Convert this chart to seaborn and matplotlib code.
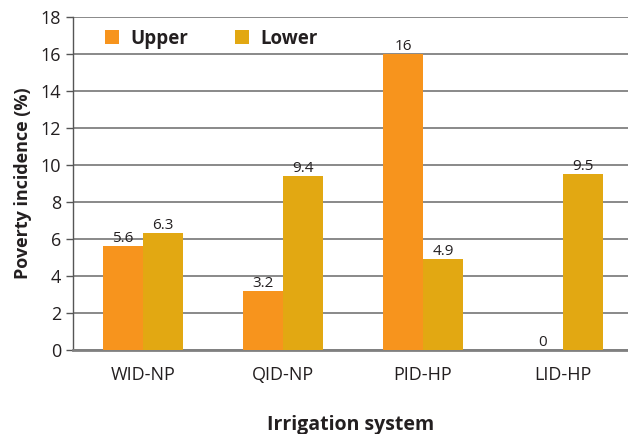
import seaborn as sns
import matplotlib.pyplot as plt
import pandas as pd

# data
systems = ['WID-NP', 'QID-NP', 'PID-HP', 'LID-HP']
upper = [5.6, 3.2, 16, 0]
lower = [6.3, 9.4, 4.9, 9.5]

df = pd.DataFrame({
    'system': systems * 2,
    'group': ['Upper'] * 4 + ['Lower'] * 4,
    'value': upper + lower,
})

sns.set_style('white')
plt.rcParams['font.family'] = ['Open Sans', 'DejaVu Sans']

fig = plt.figure(figsize=(6.28, 4.34), dpi=100)
ax = fig.add_axes([0.116, 0.194, 0.884, 0.767])

colors = {'Upper': '#F7941D', 'Lower': '#E2A812'}
sns.barplot(data=df, x='system', y='value', hue='group', palette=colors,
            width=0.57, saturation=1, linewidth=0, ax=ax, zorder=3)

for cont in ax.containers:
    labels = ['%g' % v for v in cont.datavalues]
    ax.bar_label(cont, labels=labels, padding=0, fontsize=11, color='#231f20')

ax.set_ylim(0, 18)
ax.set_yticks(range(0, 19, 2))
ax.set_xlim(-0.5, 3.464)
ax.grid(axis='y', color='#808080', linewidth=1.3, zorder=0)
ax.set_axisbelow(True)

ax.set_xticks([-0.5, 0.5, 1.5, 2.5], minor=True)
ax.tick_params(axis='x', which='minor', length=8, width=1, color='#555555', direction='out')
ax.tick_params(axis='x', which='major', length=0, labelsize=13, pad=12, colors='#231f20')
ax.tick_params(axis='y', length=5, width=1, color='#555555', labelsize=13, colors='#231f20', left=True)

for s in ['top', 'right']:
    ax.spines[s].set_visible(False)
ax.spines['left'].set_color('#555555')
ax.spines['left'].set_linewidth(1)
ax.spines['bottom'].set_color('#808080')
ax.spines['bottom'].set_linewidth(2)

ax.set_xlabel('Irrigation system', fontsize=14, fontweight='bold', labelpad=22, color='#231f20')
ax.set_ylabel('Poverty incidence (%)', fontsize=13, fontweight='bold', labelpad=6, color='#231f20')

leg = ax.legend(loc='upper left', ncol=2, frameon=False, fontsize=13.5,
                handlelength=0.75, handleheight=0.75, handletextpad=0.6,
                columnspacing=2.5, bbox_to_anchor=(0.027, 1.015))
for t in leg.get_texts():
    t.set_fontweight('bold')
    t.set_color('#231f20')

fig.savefig('out.png', dpi=100)
